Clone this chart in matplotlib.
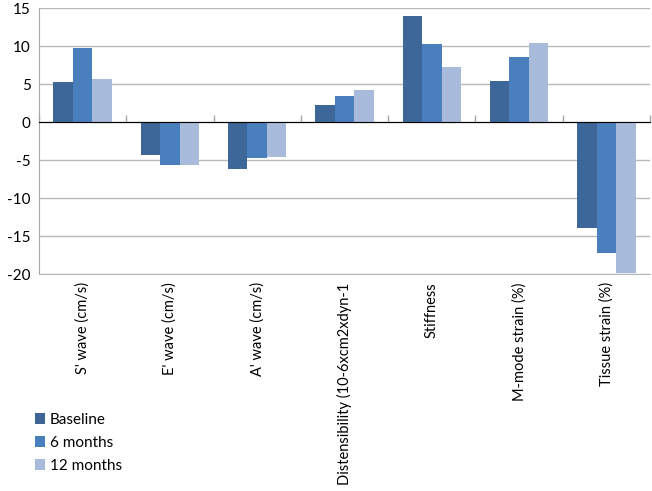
import matplotlib
matplotlib.use("Agg")
import matplotlib.pyplot as plt
import numpy as np

categories = ["S' wave (cm/s)", "E' wave (cm/s)", "A' wave (cm/s)",
              "Distensibility (10-6xcm2xdyn-1", "Stiffness",
              "M-mode strain (%)", "Tissue strain (%)"]
series_names = ["Baseline", "6 months", "12 months"]
baseline = [5.2, -4.4, -6.2, 2.2, 14.0, 5.4, -14.0]
six_months = [9.7, -5.6, -4.8, 3.4, 10.3, 8.6, -17.2]
twelve_months = [5.6, -5.7, -4.6, 4.2, 7.3, 10.4, -19.9]
y_ticks = [-20, -15, -10, -5, 0, 5, 10, 15]

colors = ["#3D6798", "#4A7FBE", "#A8BBDA"]

plt.rcParams['font.family'] = ['Lato', 'DejaVu Sans']

fig = plt.figure(figsize=(6.52, 4.91), dpi=100)
ax = fig.add_axes([39/652, 1 - 274/491, (650 - 39)/652, (274 - 8)/491])

x = np.arange(len(categories))
w = 0.223
for i, (vals, name) in enumerate(zip([baseline, six_months, twelve_months], series_names)):
    ax.bar(x + (i - 1) * w, vals, width=w, color=colors[i], label=name, zorder=3)

ax.set_xlim(-0.5, len(categories) - 0.5)
ax.set_ylim(-20, 15)
ax.set_yticks(y_ticks)
ax.set_yticklabels([str(v) for v in y_ticks], fontsize=11)
ax.yaxis.grid(True, color="#B8B8B8", linewidth=1.0, zorder=0)
ax.tick_params(axis='y', length=0, pad=6)

ax.set_xticks(x)
ax.set_xticklabels(categories, rotation=90, fontsize=10.5)
ax.tick_params(axis='x', length=0, pad=6)

for s in ['top', 'right']:
    ax.spines[s].set_visible(False)
ax.spines['left'].set_color("#A6A6A6")
ax.spines['bottom'].set_color("#B8B8B8")

# zero axis with boundary ticks
zero_frac = (0 - (-20)) / (15 - (-20))
sec = ax.secondary_xaxis(zero_frac)
sec.set_xticks(np.arange(-0.5, len(categories), 1.0))
sec.set_xticklabels([])
sec.tick_params(axis='x', direction='out', length=5, color="#A6A6A6", width=1)
sec.spines['bottom'].set_color("#A6A6A6")
sec.spines['bottom'].set_linewidth(1.0)
sec.set_zorder(4)

leg = fig.legend(loc='upper left', bbox_to_anchor=(21/652, 1 - 399/491),
                 frameon=False, fontsize=11, handlelength=0.7, handleheight=0.7,
                 handletextpad=0.3, labelspacing=0.6)

fig.savefig("out.png", dpi=100)
